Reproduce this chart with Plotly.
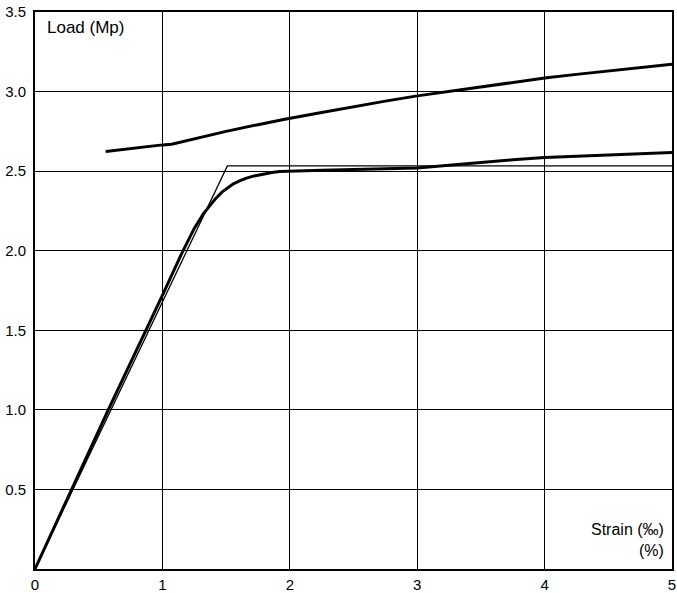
import plotly.graph_objects as go

# Upper curve (thick)
upper_x = [0.555, 0.8, 1.0, 1.073, 1.3, 1.5, 1.75, 1.95, 2.25, 2.5, 2.75, 3.0, 3.25, 3.5, 3.75, 4.0, 4.25, 4.5, 4.75, 5.0]
upper_y = [2.623, 2.648, 2.665, 2.669, 2.712, 2.75, 2.792, 2.825, 2.868, 2.905, 2.94, 2.973, 3.002, 3.03, 3.058, 3.085, 3.108, 3.13, 3.152, 3.172]

# Measured load-strain curve (thick)
meas_x = [0.0, 0.575, 1.0, 1.15, 1.25, 1.32, 1.374, 1.42, 1.47, 1.52, 1.557, 1.61, 1.66, 1.72, 1.79, 1.86, 1.92, 2.0, 2.25, 2.5, 2.75, 3.0, 3.25, 3.5, 3.75, 4.0, 4.25, 4.5, 4.75, 5.0]
meas_y = [0.0, 1.0, 1.72, 1.98, 2.14, 2.23, 2.285, 2.33, 2.37, 2.40, 2.42, 2.44, 2.456, 2.47, 2.483, 2.492, 2.497, 2.50, 2.505, 2.51, 2.514, 2.52, 2.537, 2.555, 2.571, 2.585, 2.594, 2.60, 2.609, 2.617]

# Idealised elastic-plastic line (thin)
ideal_x = [0.0, 1.51, 5.0]
ideal_y = [0.0, 2.533, 2.533]

x_ticks = [0, 1, 2, 3, 4, 5]
x_labels = ["0", "1", "2", "3", "4", "5"]
y_ticks = [0.5, 1.0, 1.5, 2.0, 2.5, 3.0, 3.5]
y_labels = ["0.5", "1.0", "1.5", "2.0", "2.5", "3.0", "3.5"]

fig = go.Figure()
fig.add_trace(go.Scatter(x=ideal_x, y=ideal_y, mode="lines",
                         line=dict(color="black", width=1.3), showlegend=False))
fig.add_trace(go.Scatter(x=meas_x, y=meas_y, mode="lines",
                         line=dict(color="black", width=3), showlegend=False))
fig.add_trace(go.Scatter(x=upper_x, y=upper_y, mode="lines",
                         line=dict(color="black", width=3), showlegend=False))

font = dict(family="Liberation Sans, Arial, sans-serif", size=15, color="black")
afont = dict(family="Liberation Sans, Arial, sans-serif", size=17, color="black")

fig.update_layout(
    width=677, height=593,
    margin=dict(l=35, r=5, t=12, b=24),
    paper_bgcolor="white", plot_bgcolor="white",
    font=font,
    xaxis=dict(range=[0, 5], tickvals=x_ticks, ticktext=x_labels,
               showgrid=True, gridcolor="black", gridwidth=1.2,
               showline=True, linecolor="black", linewidth=2, mirror=True,
               zeroline=False, ticks="", ticklabelstandoff=1, fixedrange=True,
               automargin=False),
    yaxis=dict(range=[0, 3.5], tickvals=y_ticks, ticktext=y_labels,
               showgrid=True, gridcolor="black", gridwidth=1.2,
               showline=True, linecolor="black", linewidth=2, mirror=True,
               zeroline=False, ticks="", ticklabelstandoff=4, fixedrange=True,
               automargin=False),
    annotations=[
        dict(text="Load (Mp)", xref="paper", yref="paper", x=0.0157, y=0.973,
             xanchor="left", yanchor="middle", showarrow=False, font=afont),
        dict(text="Strain (‰)<br>(%)", xref="paper", yref="paper", x=0.9906, y=0.052,
             xanchor="right", yanchor="middle", align="right", showarrow=False,
             font=dict(family="Liberation Sans, Arial, sans-serif", size=16, color="black")),
    ],
)

fig.write_html("out.html")
